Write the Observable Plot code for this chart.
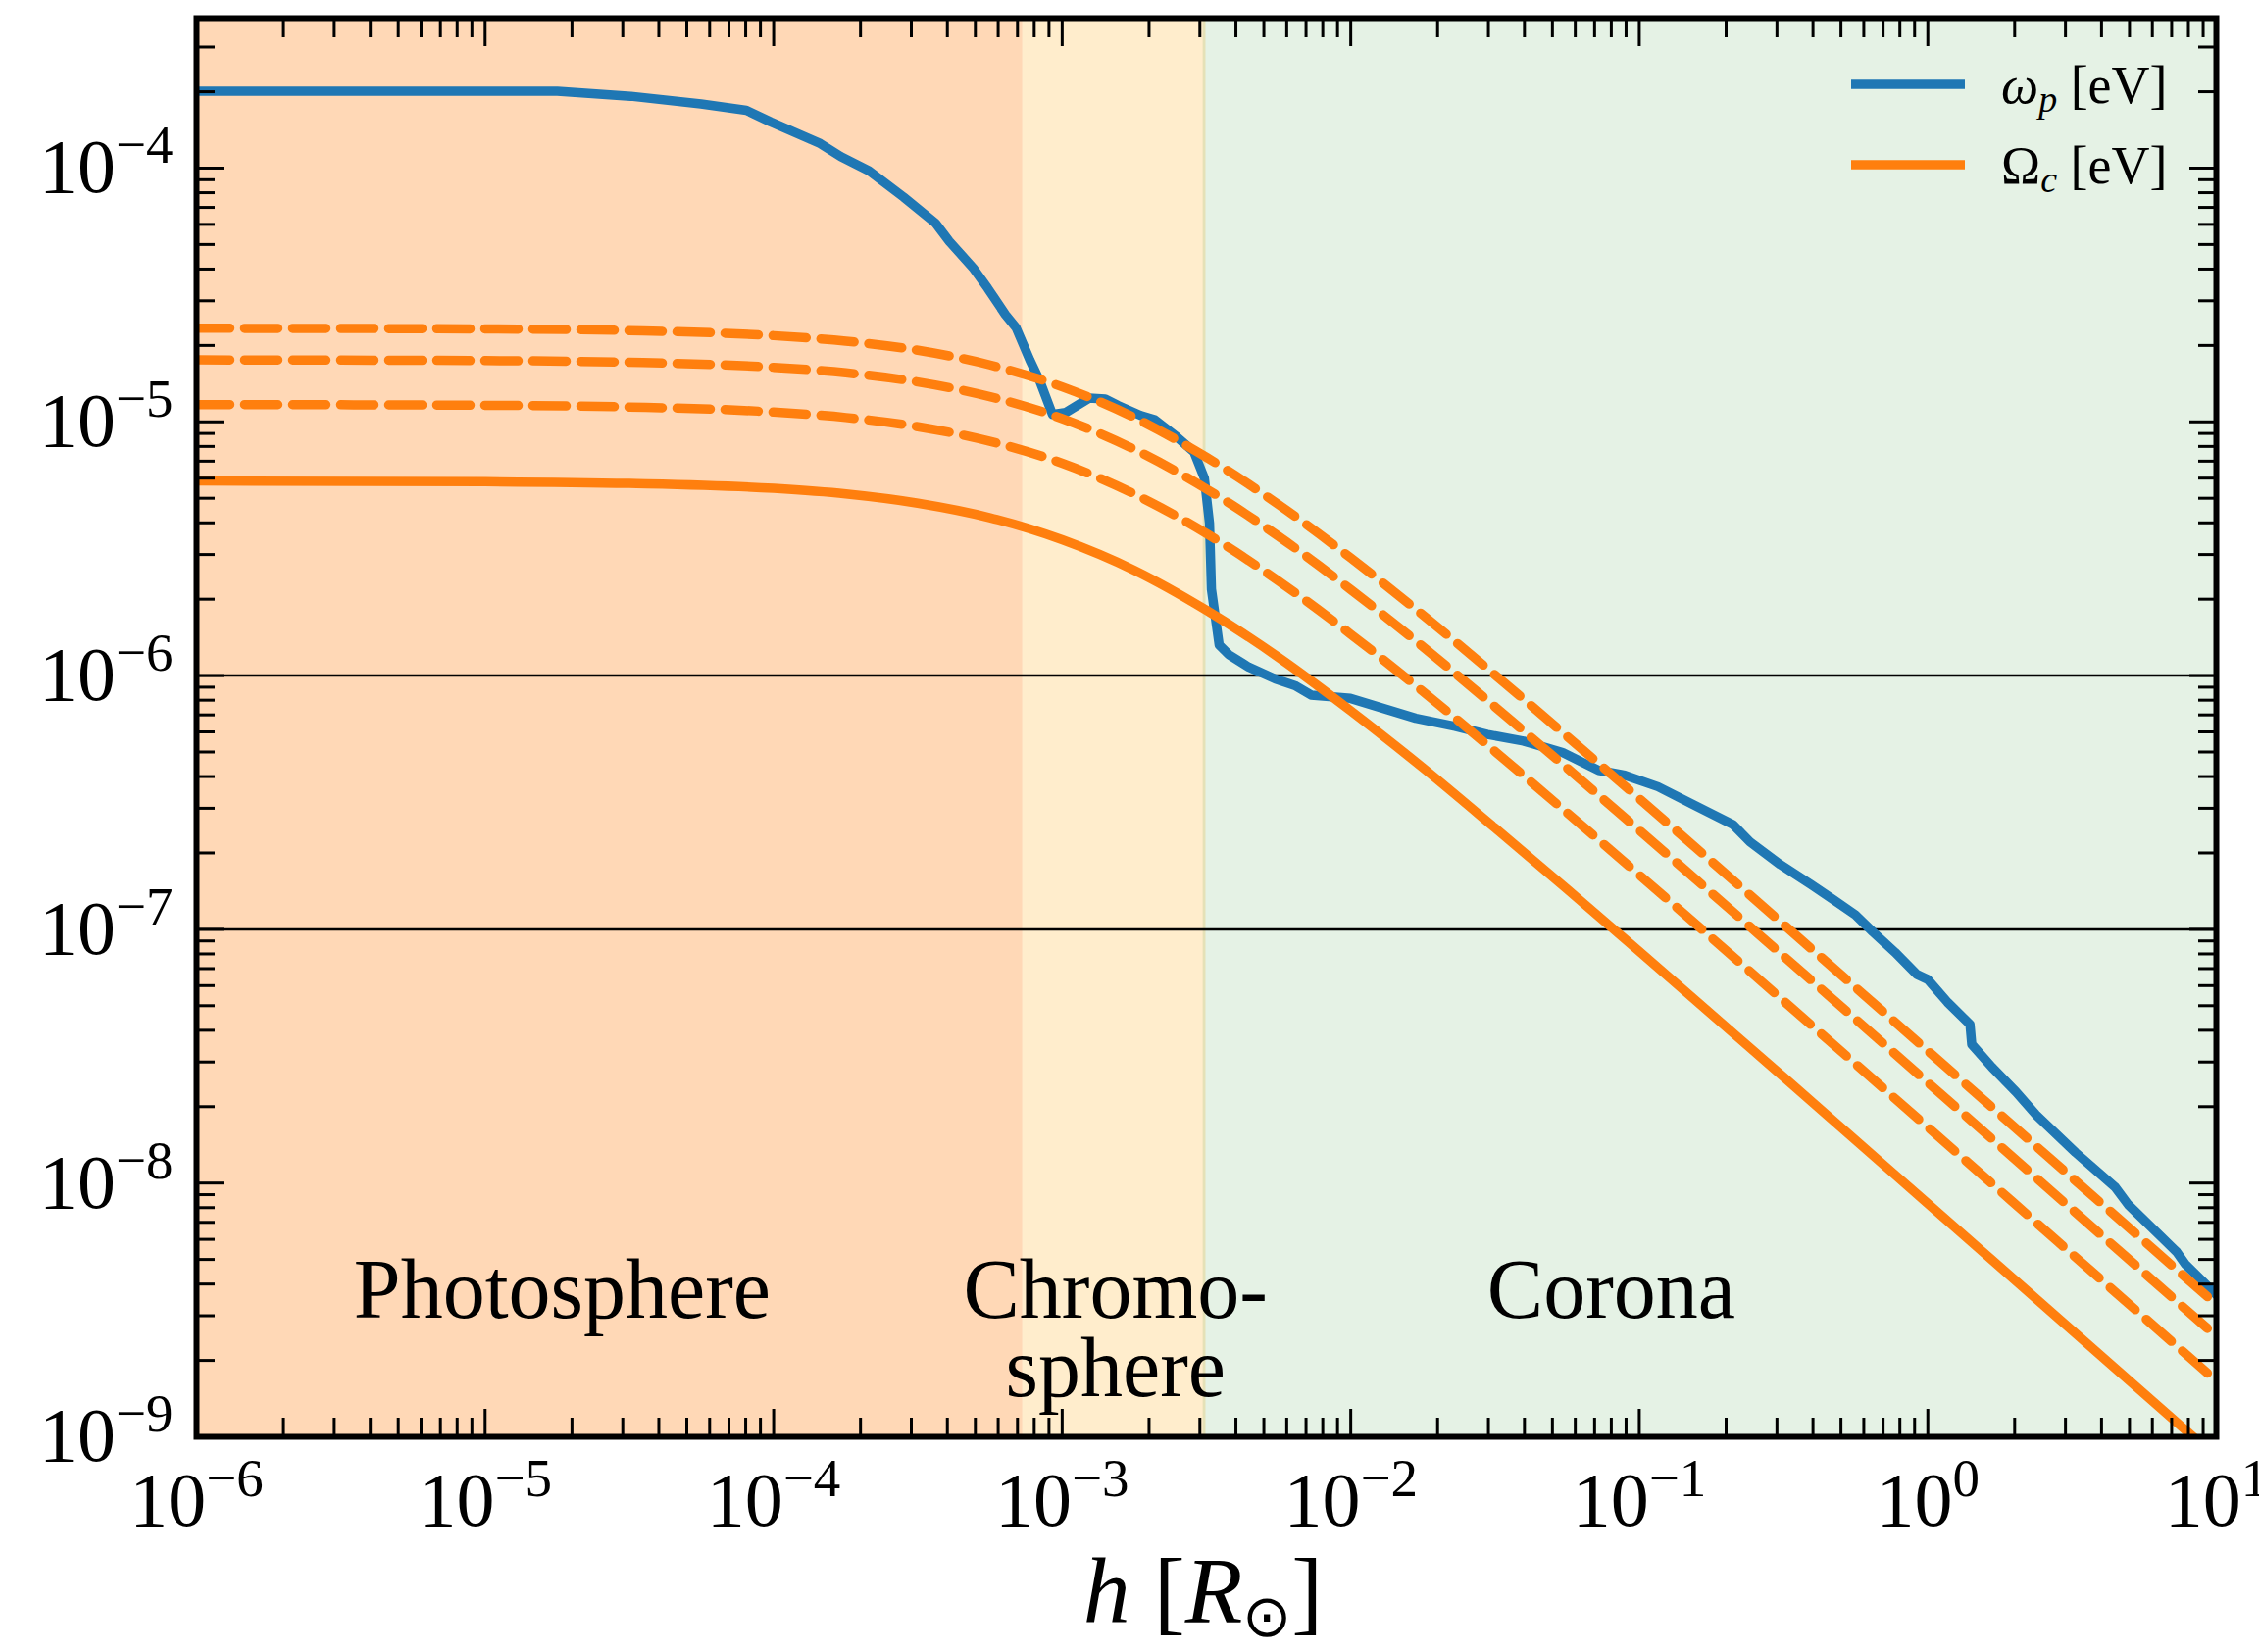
<!DOCTYPE html>
<html>
<head>
<meta charset="utf-8">
<script src="https://cdn.jsdelivr.net/npm/d3@7"></script>
<script src="https://cdn.jsdelivr.net/npm/@observablehq/plot@0.6"></script>
<style>
  html, body { margin: 0; padding: 0; background: #ffffff; }
  #chart svg { display: block; }
</style>
</head>
<body>
<div id="chart"></div>
<script>
// ---------- data ----------
// plasma frequency omega_p [eV] vs height h [R_sun]
const hPlasma = [1e-6, 1.78e-5, 3.20e-5, 5.60e-5, 8.04e-5, 9.77e-5, 1.45e-4, 1.71e-4, 2.14e-4, 2.82e-4,
  3.64e-4, 4.06e-4, 4.94e-4, 5.52e-4, 6.35e-4, 6.92e-4, 7.73e-4, 8.36e-4, 9.25e-4, 1.03e-3,
  1.24e-3, 1.41e-3, 1.56e-3, 1.87e-3, 2.09e-3, 2.50e-3, 2.86e-3, 3.11e-3, 3.24e-3, 3.29e-3,
  3.50e-3, 3.78e-3, 4.43e-3, 5.47e-3, 6.40e-3, 7.29e-3, 9.98e-3, 1.68e-2, 2.30e-2, 2.98e-2,
  3.97e-2, 5.42e-2, 7.23e-2, 8.91e-2, 0.116, 0.154, 0.211, 0.242, 0.308, 0.394,
  0.470, 0.561, 0.646, 0.769, 0.916, 1.00, 1.17, 1.40, 1.42, 1.67,
  2.02, 2.37, 3.25, 4.46, 4.95, 7.29, 7.82, 10.0];
const omegaP = [2.01e-4, 2.01e-4, 1.92e-4, 1.79e-4, 1.69e-4, 1.52e-4, 1.25e-4, 1.11e-4, 9.75e-5, 7.69e-5,
  6.07e-5, 5.15e-5, 4.01e-5, 3.36e-5, 2.65e-5, 2.35e-5, 1.75e-5, 1.45e-5, 1.07e-5, 1.09e-5,
  1.24e-5, 1.23e-5, 1.16e-5, 1.06e-5, 1.02e-5, 8.71e-6, 7.62e-6, 6.00e-6, 3.98e-6, 2.19e-6,
  1.32e-6, 1.21e-6, 1.08e-6, 9.70e-7, 9.14e-7, 8.38e-7, 8.13e-7, 6.79e-7, 6.31e-7, 5.86e-7,
  5.52e-7, 4.98e-7, 4.23e-7, 4.05e-7, 3.65e-7, 3.10e-7, 2.59e-7, 2.21e-7, 1.80e-7, 1.50e-7,
  1.31e-7, 1.14e-7, 9.75e-8, 8.13e-8, 6.64e-8, 6.34e-8, 5.16e-8, 4.22e-8, 3.52e-8, 2.86e-8,
  2.29e-8, 1.86e-8, 1.32e-8, 9.64e-9, 8.22e-9, 5.35e-9, 4.78e-9, 3.63e-9];

// cyclotron frequency Omega_c [eV]: solid curve and three dashed curves
const hField = [1e-6, 1e-5, 3.16e-5, 1e-4, 1.78e-4, 3.16e-4, 5.62e-4, 1e-3, 1.78e-3, 3.16e-3,
  5.62e-3, 1e-2, 1.78e-2, 3.16e-2, 5.62e-2, 0.1, 0.316, 1, 3.16, 10];
const omegaC = [5.85e-6, 5.81e-6, 5.72e-6, 5.47e-6, 5.20e-6, 4.78e-6, 4.19e-6, 3.43e-6, 2.60e-6, 1.81e-6,
  1.18e-6, 7.27e-7, 4.33e-7, 2.51e-7, 1.44e-7, 8.19e-8, 2.62e-8, 8.30e-9, 2.63e-9, 8.31e-10];
const omegaCdashA = [1.17e-5, 1.162e-5, 1.144e-5, 1.093e-5, 1.040e-5, 9.57e-6, 8.38e-6, 6.87e-6, 5.19e-6, 3.63e-6,
  2.36e-6, 1.455e-6, 8.65e-7, 5.03e-7, 2.88e-7, 1.638e-7, 5.23e-8, 1.659e-8, 5.25e-9, 1.661e-9];
const omegaCdashB = [1.754e-5, 1.743e-5, 1.717e-5, 1.640e-5, 1.560e-5, 1.436e-5, 1.257e-5, 1.030e-5, 7.79e-6, 5.44e-6,
  3.54e-6, 2.182e-6, 1.298e-6, 7.54e-7, 4.32e-7, 2.457e-7, 7.85e-8, 2.489e-8, 7.88e-9, 2.49e-9];
const omegaCdashC = [2.338e-5, 2.324e-5, 2.289e-5, 2.186e-5, 2.080e-5, 1.914e-5, 1.676e-5, 1.373e-5, 1.039e-5, 7.25e-6,
  4.72e-6, 2.910e-6, 1.731e-6, 1.006e-6, 5.76e-7, 3.276e-7, 1.046e-7, 3.318e-8, 1.050e-8, 3.322e-9];

// atmosphere layers (h ranges)
const layerNames = ["Photosphere", "Chromosphere", "Corona"];
const layerStart = [1e-6, 7.3e-4, 3.08e-3];
const layerEnd = [7.3e-4, 3.15e-3, 10];

// reference levels
const refLevels = [1e-6, 1e-7];

// tick exponents
const xExponents = [-6, -5, -4, -3, -2, -1, 0, 1];
const yExponents = [-9, -8, -7, -6, -5, -4];

// ---------- styling / layout ----------
const W = 2304, H = 1685;
const mL = 200, mR = 44, mT = 18, mB = 220;
const xDomain = [1e-6, 10];
const yDomain = [1e-9, 3.9e-4];
const FONT = "'Liberation Serif', 'Times New Roman', serif";
const BLUE = "#1f77b4", ORANGE = "#ff7f0e";
const layerFill = ["#ff7f0e", "#ffa500", "#008000"];
const layerOpacity = [0.3, 0.2, 0.1];
const LW = 9.5;

const toRows = (xs, ys) => xs.map((x, i) => ({h: x, v: ys[i]}));
const plasma = toRows(hPlasma, omegaP);
const cycSolid = toRows(hField, omegaC);
const cycDashed = [omegaCdashA, omegaCdashB, omegaCdashC].map(ys => toRows(hField, ys));

const xMajor = xExponents.map(e => Math.pow(10, e));
const yMajor = yExponents.map(e => Math.pow(10, e));
const minorOf = (exps, dom) => {
  const out = [];
  for (const e of exps) for (let k = 2; k <= 9; k++) {
    const v = k * Math.pow(10, e);
    if (v > dom[0] && v < dom[1]) out.push(v);
  }
  return out;
};
const xMinor = minorOf(xExponents, xDomain);
const yMinor = minorOf([...yExponents], yDomain);
const expFmt = d => "10^" + String(Math.round(Math.log10(d))).replace("-", "\u2212");

const tickStyle = {stroke: "black", strokeWidth: 3, fill: "none", label: null};
const MAJ = 28, MIN = 19;

const layerMarks = layerNames.map((name, i) =>
  Plot.rect([{x1: layerStart[i], x2: layerEnd[i]}], {
    x1: "x1", x2: "x2", fill: layerFill[i], fillOpacity: layerOpacity[i]
  })
);

// label anchors (layout)
const labelFont = 86;
const layerLabels = [
  {text: "Photosphere", x: 1.85e-5, y: 3.78e-9},
  {text: "Chromo-", x: 1.53e-3, y: 3.78e-9},
  {text: "sphere", x: 1.53e-3, y: 1.85e-9},
  {text: "Corona", x: 0.080, y: 3.78e-9}
];

const svg = Plot.plot({
  width: W, height: H,
  marginLeft: mL, marginRight: mR, marginTop: mT, marginBottom: mB,
  style: {background: "white", fontFamily: FONT, color: "black"},
  x: {type: "log", domain: xDomain},
  y: {type: "log", domain: yDomain},
  marks: [
    ...layerMarks,
    Plot.ruleY(refLevels, {stroke: "black", strokeWidth: 2.5}),
    Plot.line(plasma, {x: "h", y: "v", stroke: BLUE, strokeWidth: LW, strokeLinejoin: "round", clip: true}),
    ...cycDashed.map(rows => Plot.line(rows, {x: "h", y: "v", stroke: ORANGE, strokeWidth: LW,
      strokeDasharray: "34,15", curve: "monotone-x", clip: true})),
    Plot.line(cycSolid, {x: "h", y: "v", stroke: ORANGE, strokeWidth: LW, curve: "monotone-x",
      strokeLinejoin: "round", clip: true}),
    Plot.text(layerLabels, {x: "x", y: "y", text: "text", fontSize: labelFont, fontFamily: FONT,
      fill: "black", textAnchor: "middle"}),
    // inward ticks, all four sides
    Plot.axisX(xMajor, {anchor: "bottom", tickSize: MAJ, dy: -MAJ, ...tickStyle}),
    Plot.axisX(xMinor, {anchor: "bottom", tickSize: MIN, dy: -MIN, ...tickStyle}),
    Plot.axisX(xMajor, {anchor: "top", tickSize: MAJ, dy: MAJ, ...tickStyle}),
    Plot.axisX(xMinor, {anchor: "top", tickSize: MIN, dy: MIN, ...tickStyle}),
    Plot.axisY(yMajor, {anchor: "left", tickSize: MAJ, dx: MAJ, ...tickStyle}),
    Plot.axisY(yMinor, {anchor: "left", tickSize: MIN, dx: MIN, ...tickStyle}),
    Plot.axisY(yMajor, {anchor: "right", tickSize: MAJ, dx: -MAJ, ...tickStyle}),
    Plot.axisY(yMinor, {anchor: "right", tickSize: MIN, dx: -MIN, ...tickStyle}),
    // tick labels
    Plot.axisX(xMajor, {anchor: "bottom", tickSize: 0, tickPadding: 35, stroke: "none", fill: "black",
      tickFormat: expFmt, fontSize: 78, fontFamily: FONT, label: null}),
    Plot.axisY(yMajor, {anchor: "left", tickSize: 0, tickPadding: 24, stroke: "none", fill: "black",
      tickFormat: expFmt, fontSize: 78, fontFamily: FONT, label: null}),
    Plot.frame({stroke: "black", strokeWidth: 6})
  ]
});

// superscript exponents in tick labels
d3.select(svg).selectAll('g[aria-label$="tick label"] text').each(function () {
  const s = this.textContent;
  if (!s.includes("^")) return;
  const [base, exp] = s.split("^");
  const t = d3.select(this);
  t.text(null).style("font-variant", "normal");
  t.append("tspan").text(base);
  t.append("tspan").attr("font-size", 55).attr("dy", -30).text(exp);
});

const root = d3.select(svg);

// legend (layout in pixels)
const legend = root.append("g").attr("font-family", FONT).attr("fill", "black")
  .attr("text-anchor", "start");
const legendItems = [
  {color: BLUE, sym: "\u03C9", symItalic: true, sub: "p", y: 86},
  {color: ORANGE, sym: "\u03A9", symItalic: false, sub: "c", y: 168}
];
for (const it of legendItems) {
  legend.append("line").attr("x1", 1888).attr("x2", 2004).attr("y1", it.y).attr("y2", it.y)
    .attr("stroke", it.color).attr("stroke-width", LW);
  const t = legend.append("text").attr("x", 2041).attr("y", it.y + 19).attr("font-size", 54)
    .attr("text-anchor", "start");
  t.append("tspan").attr("font-style", it.symItalic ? "italic" : "normal").text(it.sym);
  t.append("tspan").attr("font-style", "italic").attr("font-size", 38).attr("dy", 9).text(it.sub);
  t.append("tspan").attr("dy", -9).text(" [eV]");
}

// x-axis title
const xt = root.append("text").attr("x", 1227).attr("y", 1655).attr("text-anchor", "middle")
  .attr("font-family", FONT).attr("font-size", 96).attr("fill", "black");
xt.append("tspan").attr("font-style", "italic").text("h");
xt.append("tspan").text(" [");
xt.append("tspan").attr("font-style", "italic").text("R");
xt.append("tspan").attr("font-size", 60).attr("dy", 14).text("\u2299");
xt.append("tspan").attr("dy", -14).text("]");

document.getElementById("chart").appendChild(svg);
</script>
</body>
</html>
